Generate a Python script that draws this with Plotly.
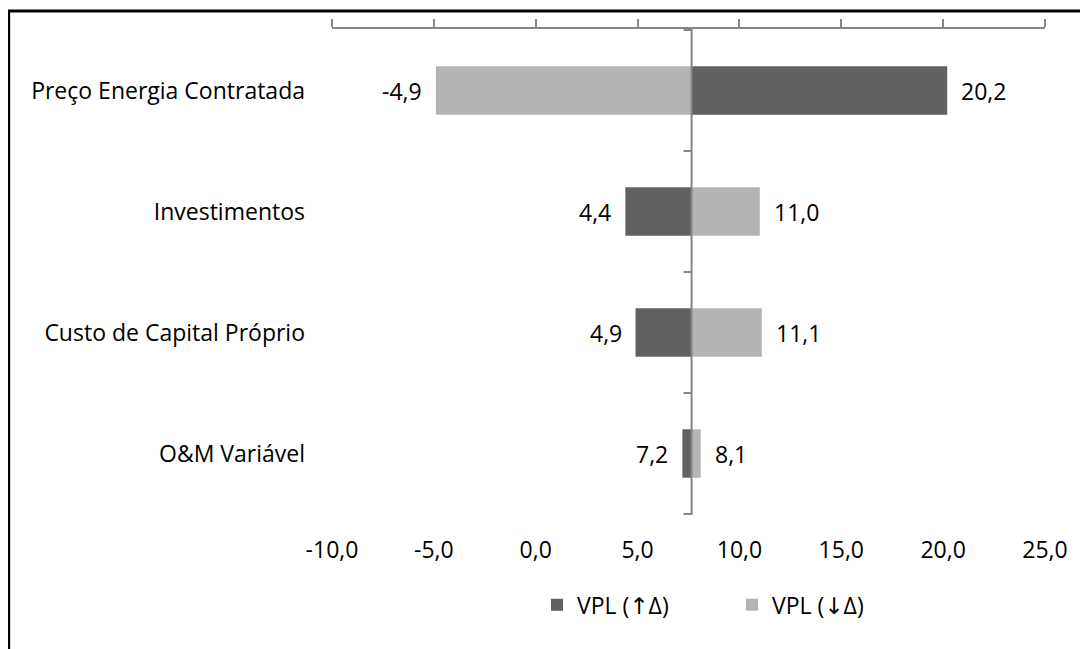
import plotly.graph_objects as go

categories = ["Preço Energia Contratada", "Investimentos", "Custo de Capital Próprio", "O&M Variável"]
vpl_up = [20.2, 4.4, 4.9, 7.2]      # VPL (↑Δ)
vpl_down = [-4.9, 11.0, 11.1, 8.1]  # VPL (↓Δ)
base_vpl = 7.65
x_ticks = [-10, -5, 0, 5, 10, 15, 20, 25]
series_names = ["VPL (<span style='font-family:DejaVu Sans'>↑</span>Δ)",
                "VPL (<span style='font-family:DejaVu Sans'>↓</span>Δ)"]

DARK = "#616161"
LIGHT = "#b4b4b4"
AXIS = "#868686"
FONT = "Open Sans"
FS = 23

def fmt(v):
    return f"{v:.1f}".replace(".", ",")

fig = go.Figure()
annotations = []
for name, vals, col in [(series_names[0], vpl_up, DARK), (series_names[1], vpl_down, LIGHT)]:
    fig.add_trace(go.Bar(
        y=categories, x=[v - base_vpl for v in vals], base=base_vpl,
        orientation="h", name=name, marker=dict(color=col, line=dict(width=0)),
        hoverinfo="skip",
    ))
    for c, v in zip(categories, vals):
        right = v >= base_vpl
        annotations.append(dict(
            x=v, y=c, xref="x", yref="y", text=fmt(v), showarrow=False,
            xanchor="left" if right else "right", xshift=12 if right else -12,
            font=dict(family=FONT, size=FS, color="black"),
        ))

shapes = []
shapes.append(dict(type="line", xref="x", yref="paper", x0=base_vpl, x1=base_vpl, y0=0, y1=1,
                   line=dict(color=AXIS, width=2), layer="above"))
for i in range(len(categories) + 1):
    shapes.append(dict(type="line", xref="x", yref="y", xsizemode="pixel", xanchor=base_vpl,
                       x0=-8, x1=0, y0=i - 0.5, y1=i - 0.5,
                       line=dict(color=AXIS, width=2), layer="above"))
shapes.append(dict(type="rect", xref="paper", yref="paper", x0=-0.4535, x1=1.08, y0=-0.30, y1=1.037,
                   line=dict(color="black", width=3), fillcolor="rgba(0,0,0,0)"))

fig.update_layout(
    width=1088, height=649,
    margin=dict(l=324, r=51, t=21, b=142),
    paper_bgcolor="white", plot_bgcolor="white",
    barmode="overlay", bargap=0.6,
    separators=",.",
    font=dict(family=FONT, size=FS, color="black"),
    shapes=shapes, annotations=annotations,
    showlegend=True,
    legend=dict(orientation="h", x=0.561, y=-0.185, xanchor="center", yanchor="middle",
                font=dict(family=FONT, size=FS, color="black"), traceorder="normal",
                itemwidth=30, entrywidth=150, entrywidthmode="pixels"),
    xaxis=dict(range=[-10, 25], side="top", showline=True, linecolor=AXIS, linewidth=2,
               ticks="outside", ticklen=8, tickcolor=AXIS, tickwidth=2,
               tickvals=x_ticks, showticklabels=False, showgrid=False, zeroline=False,
               fixedrange=True),
    xaxis2=dict(overlaying="x", matches="x", side="bottom", anchor="y", showline=False,
                ticks="", tickvals=x_ticks, ticktext=[fmt(v) for v in x_ticks],
                showgrid=False, zeroline=False, ticklabelstandoff=19,
                tickfont=dict(family=FONT, size=FS, color="black")),
    yaxis=dict(categoryorder="array", categoryarray=categories, autorange="reversed",
               showline=False, ticks="", showgrid=False, zeroline=False,
               ticklabelstandoff=26, tickfont=dict(family=FONT, size=FS, color="black")),
)
fig.add_trace(go.Scatter(x=[-10, 25], y=[categories[0], categories[0]], xaxis="x2", mode="markers",
                         marker=dict(opacity=0), showlegend=False, hoverinfo="skip"))

fig.write_html("out.html")
